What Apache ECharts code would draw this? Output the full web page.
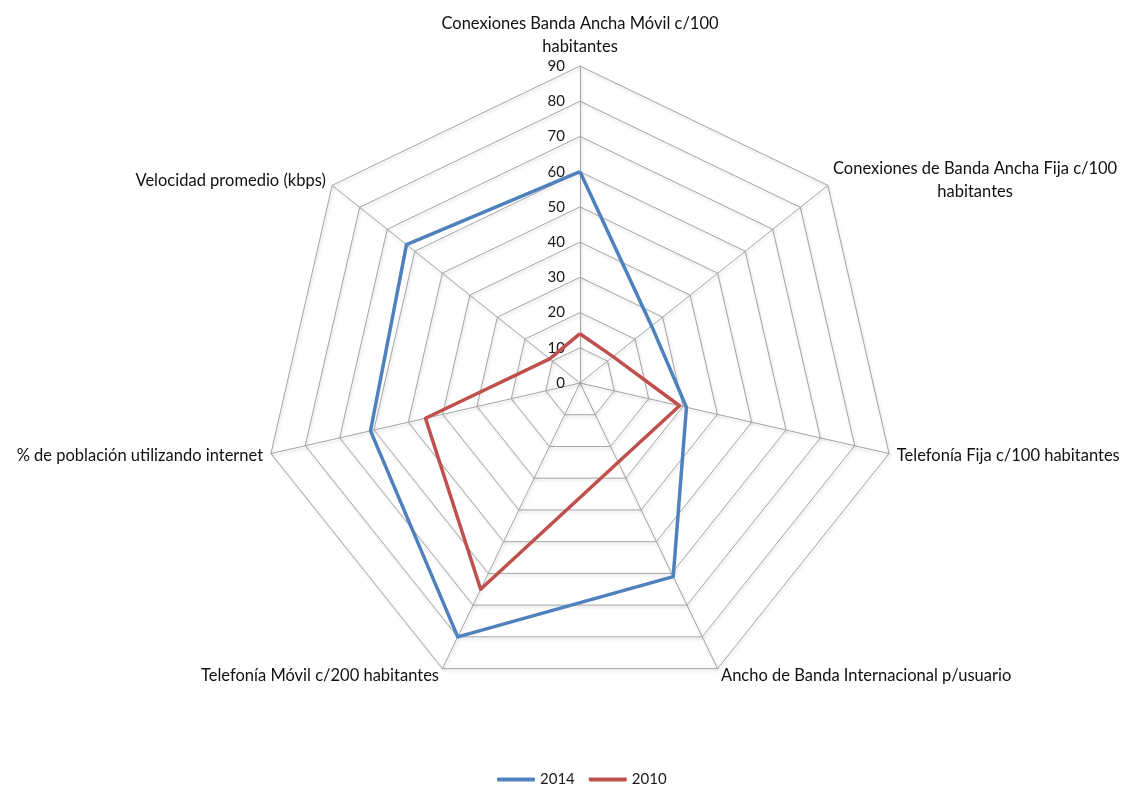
<!DOCTYPE html>
<html>
<head>
<meta charset="utf-8">
<script src="https://cdn.jsdelivr.net/npm/echarts@6/dist/echarts.min.js"></script>
<style>
  html, body { margin: 0; padding: 0; background: #ffffff; }
  #chart { width: 1130px; height: 789px; }
</style>
</head>
<body>
<div id="chart"></div>
<script>
// Indicator names, listed counterclockwise from the top spoke
const indicatorNames = [
  'Conexiones Banda Ancha Móvil c/100\nhabitantes',
  'Velocidad promedio (kbps)',
  '% de población utilizando internet',
  'Telefonía Móvil c/200 habitantes',
  'Ancho de Banda Internacional p/usuario',
  'Telefonía Fija c/100 habitantes',
  'Conexiones de Banda Ancha Fija c/100\nhabitantes'
];
const axisMax = 90;
const seriesNames = ['2014', '2010'];
const values2014 = [60, 63, 61, 80, 61, 31, 26];
const values2010 = [14, 11, 45, 65, 25, 29, 12];
const seriesColors = ['#4f81bd', '#c0504d'];

const FONT = 'Lato, "Open Sans", sans-serif';

const indicators = indicatorNames.map((name, i) => ({
  name: name,
  min: 0,
  max: axisMax,
  // scale numbers only along the top spoke
  axisLabel: { show: i === 0 }
}));

const chart = echarts.init(document.getElementById('chart'), null, { renderer: 'canvas' });

const gridLine = {
  color: '#a6a6a6',
  width: 1,
  shadowColor: 'rgba(0,0,0,0.18)',
  shadowBlur: 3,
  shadowOffsetX: 1,
  shadowOffsetY: 2
};

chart.setOption({
  backgroundColor: '#ffffff',
  animation: false,
  legend: {
    data: seriesNames,
    bottom: -3,
    left: 492,
    itemWidth: 38,
    itemHeight: 4,
    itemGap: 14,
    icon: 'roundRect',
    textStyle: { fontFamily: FONT, fontSize: 15, color: '#1a1a1a' }
  },
  radar: {
    center: [580, 383],
    radius: 317,
    startAngle: 90,
    splitNumber: 9,
    shape: 'polygon',
    indicator: indicators,
    axisName: {
      color: '#111',
      fontFamily: FONT,
      fontSize: 16.5,
      lineHeight: 23,
      // two-line names on the side spokes keep their lines centred in one block
      formatter: function (name) {
        if (name.indexOf('\n') >= 0 && name.indexOf('Fija') >= 0) {
          return name.split('\n').map(s => '{c|' + s + '}').join('\n');
        }
        return name;
      },
      rich: {
        c: {
          width: 282,
          align: 'center',
          fontFamily: FONT,
          fontSize: 16.5,
          lineHeight: 23,
          color: '#111'
        }
      }
    },
    nameGap: 8,
    axisLine: { show: true, lineStyle: gridLine },
    splitLine: { show: true, lineStyle: gridLine },
    splitArea: { show: false },
    axisTick: { show: false },
    axisLabel: {
      color: '#1a1a1a',
      fontFamily: FONT,
      fontSize: 15,
      margin: 15
    }
  },
  series: [{
    type: 'radar',
    symbol: 'none',
    data: [
      { name: seriesNames[0], value: values2014,
        lineStyle: { color: seriesColors[0], width: 3.5 },
        itemStyle: { color: seriesColors[0] } },
      { name: seriesNames[1], value: values2010,
        lineStyle: { color: seriesColors[1], width: 3.5 },
        itemStyle: { color: seriesColors[1] } }
    ]
  }]
});
</script>
</body>
</html>
